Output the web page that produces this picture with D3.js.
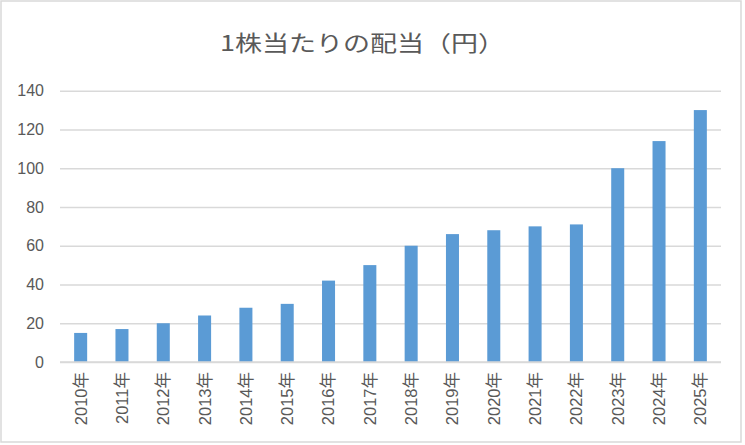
<!DOCTYPE html>
<html><head><meta charset="utf-8">
<script src="https://cdn.jsdelivr.net/npm/d3@7"></script>
<style>html,body{margin:0;padding:0;background:#fff;}svg{display:block;}</style>
</head><body>
<script>
const title = "1株当たりの配当（円）";
const categories = ["2010年","2011年","2012年","2013年","2014年","2015年","2016年","2017年","2018年","2019年","2020年","2021年","2022年","2023年","2024年","2025年"];
const dividends = [15,17,20,24,28,30,42,50,60,66,68,70,71,100,114,130];
const yTicks = [0,20,40,60,80,100,120,140];

(function(){
const W = 745, H = 445;
const svg = d3.select("body").append("svg").attr("width", W).attr("height", H);
svg.append("rect").attr("x",1).attr("y",1).attr("width",740).attr("height",441)
  .attr("fill","#fff").attr("stroke","#d9d9d9").attr("stroke-width",1.5);

const pL = 60, pR = 721, pT = 90.7, pB = 362;
const x = d3.scaleBand().domain(categories).range([pL,pR]).paddingInner(0.685).paddingOuter(0.3425);
const y = d3.scaleLinear().domain([0,140]).range([pB,pT]);

svg.append("text").attr("x",220).attr("y",51).text(title)
  .attr("font-family","'Noto Sans CJK JP', sans-serif").attr("font-size",22)
  .attr("fill","#595959").attr("textLength",285).attr("lengthAdjust","spacingAndGlyphs");

const yAxis = svg.append("g").attr("transform",`translate(${pL},0)`)
  .call(d3.axisLeft(y).tickValues(yTicks).tickSize(-(pR-pL)).tickPadding(16).tickFormat(d3.format("d")));
yAxis.select(".domain").remove();
yAxis.selectAll(".tick line").attr("stroke","#d9d9d9").attr("stroke-width",1.5);
yAxis.selectAll(".tick text").attr("fill","#595959").attr("font-size",16)
  .attr("font-family","'Liberation Sans', Arial, sans-serif");

svg.append("g").selectAll("rect").data(dividends).join("rect")
  .attr("x",(d,i)=>x(categories[i])).attr("width",x.bandwidth())
  .attr("y",d=>y(d)).attr("height",d=>y(0)-y(d)).attr("fill","#5b9bd5");

svg.append("line").attr("x1",pL).attr("x2",pR).attr("y1",pB).attr("y2",pB)
  .attr("stroke","#d9d9d9").attr("stroke-width",1.5);

const xAxis = svg.append("g").attr("transform",`translate(0,${pB})`)
  .call(d3.axisBottom(x).tickSize(0).tickPadding(0));
xAxis.select(".domain").remove();
xAxis.selectAll(".tick text")
  .attr("transform","translate(0,10) rotate(-90)")
  .attr("text-anchor","end").attr("x",0).attr("y",0).attr("dy","0.36em")
  .attr("fill","#595959").attr("font-size",16.5)
  .attr("font-family","'Liberation Sans', Arial, 'Noto Sans CJK JP', sans-serif");
})();
</script>
</body></html>
